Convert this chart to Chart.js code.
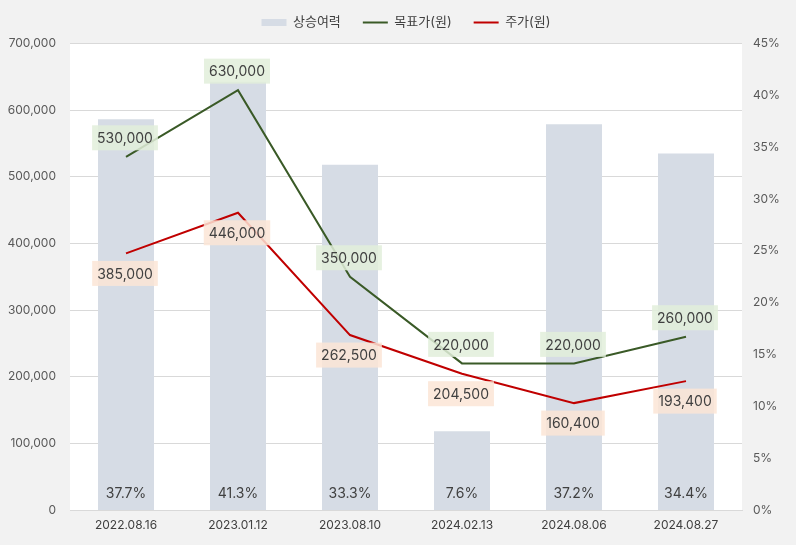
<!DOCTYPE html>
<html>
<head>
<meta charset="utf-8">
<script src="https://cdn.jsdelivr.net/npm/chart.js@4"></script>
<style>
  html, body { margin: 0; padding: 0; background: #f2f2f2; }
  #wrap { width: 796px; height: 545px; }
</style>
</head>
<body>
<div id="wrap"><canvas id="chart"></canvas></div>
<script>
const dates = ['2022.08.16', '2023.01.12', '2023.08.10', '2024.02.13', '2024.08.06', '2024.08.27'];
const upside = [37.7, 41.3, 33.3, 7.6, 37.2, 34.4];
const targetPrice = [530000, 630000, 350000, 220000, 220000, 260000];
const stockPrice = [385000, 446000, 262500, 204500, 160400, 193400];

const FONT = "Inter, 'Noto Sans CJK KR', sans-serif";

const background = {
  id: 'background',
  beforeDraw(chart) {
    const { ctx, chartArea: a } = chart;
    ctx.save();
    ctx.fillStyle = '#f2f2f2';
    ctx.fillRect(0, 0, chart.width, chart.height);
    ctx.fillStyle = '#ffffff';
    ctx.fillRect(a.left, a.top, a.right - a.left, a.bottom - a.top);
    ctx.restore();
  }
};

// value labels: boxed labels on the lines, percentages at the foot of the bars
const valueLabels = {
  id: 'valueLabels',
  afterDatasetsDraw(chart) {
    const { ctx, chartArea } = chart;
    ctx.save();
    ctx.font = '14px ' + FONT;
    ctx.textAlign = 'center';
    ctx.textBaseline = 'middle';

    chart.getDatasetMeta(0).data.forEach((bar, i) => {
      ctx.fillStyle = '#404040';
      ctx.fillText(upside[i].toFixed(1) + '%', bar.x, chartArea.bottom - 16);
    });

    const boxes = [
      { idx: 1, values: targetPrice, dy: -19, fill: 'rgba(226,239,218,0.85)' },
      { idx: 2, values: stockPrice, dy: 20, fill: 'rgba(251,229,214,0.85)' }
    ];
    boxes.forEach(b => {
      chart.getDatasetMeta(b.idx).data.forEach((pt, i) => {
        const text = b.values[i].toLocaleString('en-US');
        const w = ctx.measureText(text).width + 10;
        const h = 25;
        const cx = pt.x - 1, cy = pt.y + b.dy;
        ctx.fillStyle = b.fill;
        ctx.fillRect(cx - w / 2, cy - h / 2, w, h);
        ctx.fillStyle = '#404040';
        ctx.fillText(text, cx, cy + 1);
      });
    });
    ctx.restore();
  }
};

new Chart(document.getElementById('chart'), {
  type: 'bar',
  data: {
    labels: dates,
    datasets: [
      {
        type: 'bar',
        label: '상승여력',
        data: upside,
        yAxisID: 'y1',
        backgroundColor: '#d6dce5',
        borderWidth: 0,
        barPercentage: 0.5,
        categoryPercentage: 1,
        order: 2
      },
      {
        type: 'line',
        label: '목표가(원)',
        data: targetPrice,
        yAxisID: 'y',
        borderColor: '#3a5a27',
        backgroundColor: '#3a5a27',
        borderWidth: 2,
        pointRadius: 0,
        tension: 0,
        order: 1
      },
      {
        type: 'line',
        label: '주가(원)',
        data: stockPrice,
        yAxisID: 'y',
        borderColor: '#c00000',
        backgroundColor: '#c00000',
        borderWidth: 2,
        pointRadius: 0,
        tension: 0,
        order: 1
      }
    ]
  },
  options: {
    responsive: true,
    maintainAspectRatio: false,
    animation: false,
    layout: { padding: { top: -6, left: 0, right: 0, bottom: 0 } },
    plugins: {
      legend: {
        position: 'top',
        fullSize: false,
        labels: {
          usePointStyle: true,
          pointStyleWidth: 25,
          boxHeight: 7,
          padding: 22,
          color: '#404040',
          font: { family: FONT, size: 13 },
          sort: (a, b) => a.datasetIndex - b.datasetIndex,
          generateLabels(chart) {
            const items = Chart.defaults.plugins.legend.labels.generateLabels(chart);
            items.forEach(it => {
              it.pointStyle = it.datasetIndex === 0 ? 'rect' : 'line';
              it.lineWidth = it.datasetIndex === 0 ? 0 : 2;
            });
            return items;
          }
        }
      },
      subtitle: {
        display: true,
        text: ' ',
        weight: 500,
        font: { size: 1, lineHeight: 1 },
        padding: { top: 0, bottom: 3.5 }
      },
      tooltip: { enabled: false }
    },
    scales: {
      x: {
        offset: true,
        grid: { display: false, drawTicks: false },
        border: { display: true, color: '#d9d9d9' },
        ticks: { color: '#404040', padding: 8, font: { family: FONT, size: 12 } },
        afterFit(scale) { scale.height = 35; }
      },
      y: {
        position: 'left',
        min: 0,
        max: 700000,
        grid: { color: '#d9d9d9', drawTicks: false },
        border: { display: false },
        ticks: {
          stepSize: 100000,
          padding: 14,
          color: '#595959',
          font: { family: FONT, size: 12 },
          callback: v => v.toLocaleString('en-US')
        },
        afterFit(scale) { scale.width = 70; }
      },
      y1: {
        position: 'right',
        min: 0,
        max: 45,
        grid: { display: false, drawTicks: false },
        border: { display: false },
        ticks: {
          stepSize: 5,
          padding: 11,
          color: '#595959',
          font: { family: FONT, size: 12 },
          callback: v => v + '%'
        },
        afterFit(scale) { scale.width = 54; }
      }
    }
  },
  plugins: [background, valueLabels]
});
</script>
</body>
</html>
